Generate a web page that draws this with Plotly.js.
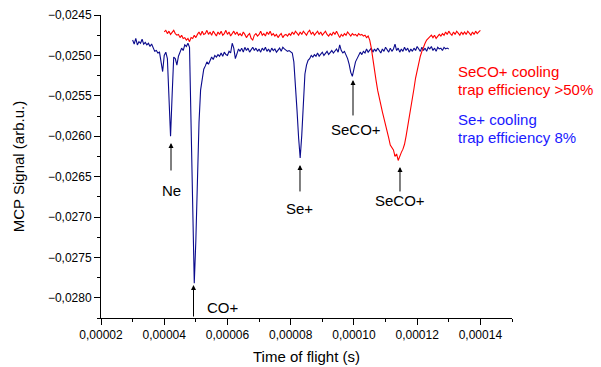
<!DOCTYPE html>
<html>
<head>
<meta charset="utf-8">
<script src="https://cdn.plot.ly/plotly-3.0.1.min.js"></script>
<style>html,body{margin:0;padding:0;background:#fff}#chart{width:601px;height:367px}</style>
</head>
<body>
<div id="chart"></div>
<script>
// Time of flight samples (microseconds)
const blueTimeUs = [
30,30.5,31,31.5,32,32.5,33,33.5,34,34.5,35,35.5,36,36.5,37,37.5,38,38.5,39,39.5,
40,40.5,41,41.5,42,42.5,43,43.5,44,44.5,45,45.5,46,46.5,47,47.5,48,48.5,49,49.5,
50,50.5,51,51.5,52,52.5,53,53.5,54,54.5,55,55.5,56,56.5,57,57.5,58,58.5,59,59.5,
60,60.5,61,61.5,62,62.5,63,63.5,64,64.5,65,65.5,66,66.5,67,67.5,68,68.5,69,69.5,
70,70.5,71,71.5,72,72.5,73,73.5,74,74.5,75,75.5,76,76.5,77,77.5,78,78.5,79,79.5,
80,80.5,81,81.5,82,82.5,83,83.5,84,84.5,85,85.5,86,86.5,87,87.5,88,88.5,89,89.5,
90,90.5,91,91.5,92,92.5,93,93.5,94,94.5,95,95.5,96,96.5,97,97.5,98,98.5,99,99.5,
100,100.5,101,101.5,102,102.5,103,103.5,104,104.5,105,105.5,106,106.5,107,107.5,108,108.5,109,109.5,
110,110.5,111,111.5,112,112.5,113,113.5,114,114.5,115,115.5,116,116.5,117,117.5,118,118.5,119,119.5,
120,120.5,121,121.5,122,122.5,123,123.5,124,124.5,125,125.5,126,126.5,127,127.5,128,128.5,129,129.5,
130];
const redTimeUs = [
40,40.5,41,41.5,42,42.5,43,43.5,44,44.5,45,45.5,46,46.5,47,47.5,48,48.5,49,49.5,
50,50.5,51,51.5,52,52.5,53,53.5,54,54.5,55,55.5,56,56.5,57,57.5,58,58.5,59,59.5,
60,60.5,61,61.5,62,62.5,63,63.5,64,64.5,65,65.5,66,66.5,67,67.5,68,68.5,69,69.5,
70,70.5,71,71.5,72,72.5,73,73.5,74,74.5,75,75.5,76,76.5,77,77.5,78,78.5,79,79.5,
80,80.5,81,81.5,82,82.5,83,83.5,84,84.5,85,85.5,86,86.5,87,87.5,88,88.5,89,89.5,
90,90.5,91,91.5,92,92.5,93,93.5,94,94.5,95,95.5,96,96.5,97,97.5,98,98.5,99,99.5,
100,100.5,101,101.5,102,102.5,103,103.5,104,104.5,105,105.5,106,106.5,107,107.5,108,108.5,109,109.5,
110,110.5,111,111.5,112,112.5,113,113.5,114,114.5,115,115.5,116,116.5,117,117.5,118,118.5,119,119.5,
120,120.5,121,121.5,122,122.5,123,123.5,124,124.5,125,125.5,126,126.5,127,127.5,128,128.5,129,129.5,
130,130.5,131,131.5,132,132.5,133,133.5,134,134.5,135,135.5,136,136.5,137,137.5,138,138.5,139,139.5,
140];

// MCP signal, Se+ cooling (blue)
const blueSignal = [
-0.02481,-0.02486,-0.02479,-0.02487,-0.02483,-0.02485,-0.02480,-0.02486,-0.02484,-0.02487,
-0.02485,-0.02489,-0.02486,-0.02491,-0.02495,-0.02494,-0.02497,-0.02496,-0.02506,-0.02520,
-0.02500,-0.02496,-0.02504,-0.02555,-0.02600,-0.02549,-0.02502,-0.02504,-0.02512,-0.02501,
-0.02496,-0.02491,-0.02494,-0.02487,-0.02489,-0.02485,-0.02490,-0.02574,-0.02685,-0.02782,
-0.02729,-0.02648,-0.02583,-0.02543,-0.02526,-0.02517,-0.02513,-0.02508,-0.02511,-0.02506,
-0.02502,-0.02505,-0.02500,-0.02502,-0.02499,-0.02501,-0.02497,-0.02501,-0.02496,-0.02499,
-0.02500,-0.02495,-0.02497,-0.02485,-0.02491,-0.02504,-0.02499,-0.02492,-0.02495,-0.02491,
-0.02496,-0.02490,-0.02494,-0.02491,-0.02496,-0.02492,-0.02490,-0.02494,-0.02491,-0.02495,
-0.02492,-0.02496,-0.02491,-0.02494,-0.02490,-0.02495,-0.02492,-0.02496,-0.02491,-0.02494,
-0.02492,-0.02496,-0.02494,-0.02491,-0.02495,-0.02490,-0.02492,-0.02494,-0.02495,-0.02494,
-0.02496,-0.02497,-0.02508,-0.02533,-0.02568,-0.02602,-0.02627,-0.02599,-0.02555,-0.02523,
-0.02512,-0.02506,-0.02504,-0.02500,-0.02502,-0.02499,-0.02501,-0.02497,-0.02501,-0.02499,
-0.02496,-0.02500,-0.02497,-0.02495,-0.02499,-0.02496,-0.02494,-0.02497,-0.02495,-0.02492,
-0.02496,-0.02487,-0.02494,-0.02497,-0.02495,-0.02499,-0.02504,-0.02511,-0.02521,-0.02526,
-0.02518,-0.02508,-0.02504,-0.02500,-0.02496,-0.02499,-0.02495,-0.02497,-0.02492,-0.02496,
-0.02494,-0.02491,-0.02496,-0.02492,-0.02495,-0.02491,-0.02494,-0.02497,-0.02492,-0.02495,
-0.02490,-0.02494,-0.02496,-0.02491,-0.02495,-0.02492,-0.02486,-0.02494,-0.02491,-0.02496,
-0.02492,-0.02495,-0.02490,-0.02494,-0.02491,-0.02496,-0.02492,-0.02495,-0.02491,-0.02494,
-0.02489,-0.02492,-0.02495,-0.02490,-0.02494,-0.02491,-0.02495,-0.02490,-0.02492,-0.02489,
-0.02494,-0.02491,-0.02495,-0.02490,-0.02492,-0.02491,-0.02494,-0.02490,-0.02492,-0.02491,
-0.02492];

// MCP signal, SeCO+ cooling (red)
const redSignal = [
-0.02471,-0.02469,-0.02473,-0.02470,-0.02474,-0.02471,-0.02469,-0.02473,-0.02475,-0.02474,
-0.02478,-0.02475,-0.02479,-0.02478,-0.02481,-0.02479,-0.02483,-0.02478,-0.02479,-0.02475,
-0.02478,-0.02474,-0.02471,-0.02475,-0.02470,-0.02474,-0.02473,-0.02469,-0.02474,-0.02471,
-0.02475,-0.02470,-0.02473,-0.02476,-0.02471,-0.02474,-0.02470,-0.02475,-0.02473,-0.02469,
-0.02474,-0.02471,-0.02476,-0.02473,-0.02470,-0.02474,-0.02471,-0.02475,-0.02473,-0.02476,
-0.02471,-0.02474,-0.02478,-0.02475,-0.02473,-0.02479,-0.02481,-0.02475,-0.02473,-0.02476,
-0.02474,-0.02470,-0.02475,-0.02473,-0.02476,-0.02471,-0.02474,-0.02470,-0.02475,-0.02473,
-0.02476,-0.02474,-0.02478,-0.02475,-0.02473,-0.02478,-0.02475,-0.02474,-0.02476,-0.02473,
-0.02475,-0.02471,-0.02474,-0.02470,-0.02473,-0.02475,-0.02471,-0.02474,-0.02470,-0.02473,
-0.02475,-0.02471,-0.02469,-0.02474,-0.02471,-0.02475,-0.02473,-0.02470,-0.02474,-0.02471,
-0.02475,-0.02473,-0.02470,-0.02474,-0.02476,-0.02473,-0.02475,-0.02471,-0.02474,-0.02470,
-0.02475,-0.02478,-0.02474,-0.02476,-0.02473,-0.02475,-0.02471,-0.02474,-0.02476,-0.02473,
-0.02475,-0.02474,-0.02476,-0.02473,-0.02475,-0.02474,-0.02476,-0.02475,-0.02478,-0.02476,
-0.02481,-0.02491,-0.02506,-0.02518,-0.02531,-0.02543,-0.02553,-0.02563,-0.02570,-0.02578,
-0.02585,-0.02595,-0.02602,-0.02611,-0.02615,-0.02617,-0.02625,-0.02622,-0.02630,-0.02624,
-0.02620,-0.02616,-0.02610,-0.02600,-0.02589,-0.02578,-0.02565,-0.02553,-0.02541,-0.02528,
-0.02518,-0.02508,-0.02501,-0.02495,-0.02489,-0.02485,-0.02481,-0.02479,-0.02476,-0.02475,
-0.02478,-0.02475,-0.02479,-0.02476,-0.02474,-0.02476,-0.02473,-0.02475,-0.02471,-0.02474,
-0.02470,-0.02473,-0.02475,-0.02471,-0.02474,-0.02470,-0.02473,-0.02475,-0.02471,-0.02474,
-0.02471,-0.02474,-0.02470,-0.02473,-0.02475,-0.02471,-0.02474,-0.02470,-0.02473,-0.02471,
-0.02469];

// Text
const peakLabels = ['Ne', 'CO+', 'Se+', 'SeCO+', 'SeCO+'];
const redLegendLines = ['SeCO+ cooling', 'trap efficiency >50%'];
const blueLegendLines = ['Se+ cooling', 'trap efficiency 8%'];
const xTitle = 'Time of flight (s)';
const yTitle = 'MCP Signal (arb.u.)';

const FONT = 'Liberation Sans, Arial, sans-serif';
const toSec = a => a.map(v => v * 1e-6);

const traces = [
  {x: toSec(blueTimeUs), y: blueSignal, type: 'scatter', mode: 'lines',
   line: {color: '#0a0a8c', width: 1.1}, showlegend: false, hoverinfo: 'skip'},
  {x: toSec(redTimeUs), y: redSignal, type: 'scatter', mode: 'lines',
   line: {color: '#ff0000', width: 1.1}, showlegend: false, hoverinfo: 'skip'}
];

// arrow tips (data coordinates) + pixel length, and label positions
const arrows = [
  {x: 0.00004214, y: -0.026084, len: 29, lx: 0.00004214, ly: -0.026666, label: peakLabels[0]},
  {x: 0.00004926, y: -0.027842, len: 33, lx: 0.00005869, ly: -0.028126, label: peakLabels[1]},
  {x: 0.00008294, y: -0.026356, len: 28, lx: 0.00008294, ly: -0.026889, label: peakLabels[2]},
  {x: 0.00009971, y: -0.025304, len: 37, lx: 0.00010066, ly: -0.025923, label: peakLabels[3]},
  {x: 0.00011457, y: -0.026381, len: 26, lx: 0.00011457, ly: -0.02679, label: peakLabels[4]}
];

const annotations = [];
arrows.forEach(a => {
  annotations.push({x: a.x, y: a.y, xref: 'x', yref: 'y', text: '', showarrow: true,
    ax: 0, ay: a.len, arrowhead: 2, arrowsize: 1, arrowwidth: 1, arrowcolor: '#000', standoff: 0});
  annotations.push({x: a.lx, y: a.ly, xref: 'x', yref: 'y', text: a.label, showarrow: false,
    xanchor: 'center', yanchor: 'middle', font: {family: FONT, size: 15, color: '#000'}});
});
const legendLines = [
  {t: redLegendLines[0], y: 0.8129, c: '#ff0000'},
  {t: redLegendLines[1], y: 0.7525, c: '#ff0000'},
  {t: blueLegendLines[0], y: 0.6535, c: '#1a1aff'},
  {t: blueLegendLines[1], y: 0.5941, c: '#1a1aff'}
];
legendLines.forEach(l => annotations.push({
  x: 0.8637, y: l.y, xref: 'paper', yref: 'paper', text: l.t, showarrow: false,
  xanchor: 'left', yanchor: 'middle', font: {family: FONT, size: 15, color: l.c}
}));

const layout = {
  width: 601, height: 367,
  margin: {l: 101, r: 89, t: 15, b: 49},
  paper_bgcolor: '#fff', plot_bgcolor: '#fff',
  separators: ', ',
  font: {family: FONT, size: 12, color: '#000'},
  showlegend: false,
  xaxis: {
    range: [0.00002, 0.00015], tick0: 0.00002, dtick: 0.00002, tickformat: '.5f',
    ticks: 'outside', ticklen: 6, tickwidth: 1, tickcolor: '#000',
    minor: {dtick: 0.00001, ticks: 'outside', ticklen: 3, tickwidth: 1, tickcolor: '#000'},
    showline: true, linecolor: '#000', linewidth: 1, showgrid: false, zeroline: false,
    tickfont: {family: FONT, size: 12, color: '#000'},
    title: {text: xTitle, font: {family: FONT, size: 15, color: '#000'}, standoff: 10}
  },
  yaxis: {
    range: [-0.02825, -0.0245], tick0: -0.0245, dtick: 0.0005, tickformat: '.4f',
    ticks: 'outside', ticklen: 6, tickwidth: 1, tickcolor: '#000',
    minor: {dtick: 0.00025, ticks: 'outside', ticklen: 3, tickwidth: 1, tickcolor: '#000'},
    showline: true, linecolor: '#000', linewidth: 1, showgrid: false, zeroline: false,
    tickfont: {family: FONT, size: 12, color: '#000'},
    title: {text: yTitle, font: {family: FONT, size: 15, color: '#000'}, standoff: 19}
  },
  annotations: annotations
};

Plotly.newPlot('chart', traces, layout, {staticPlot: true, displayModeBar: false});
</script>
</body>
</html>
